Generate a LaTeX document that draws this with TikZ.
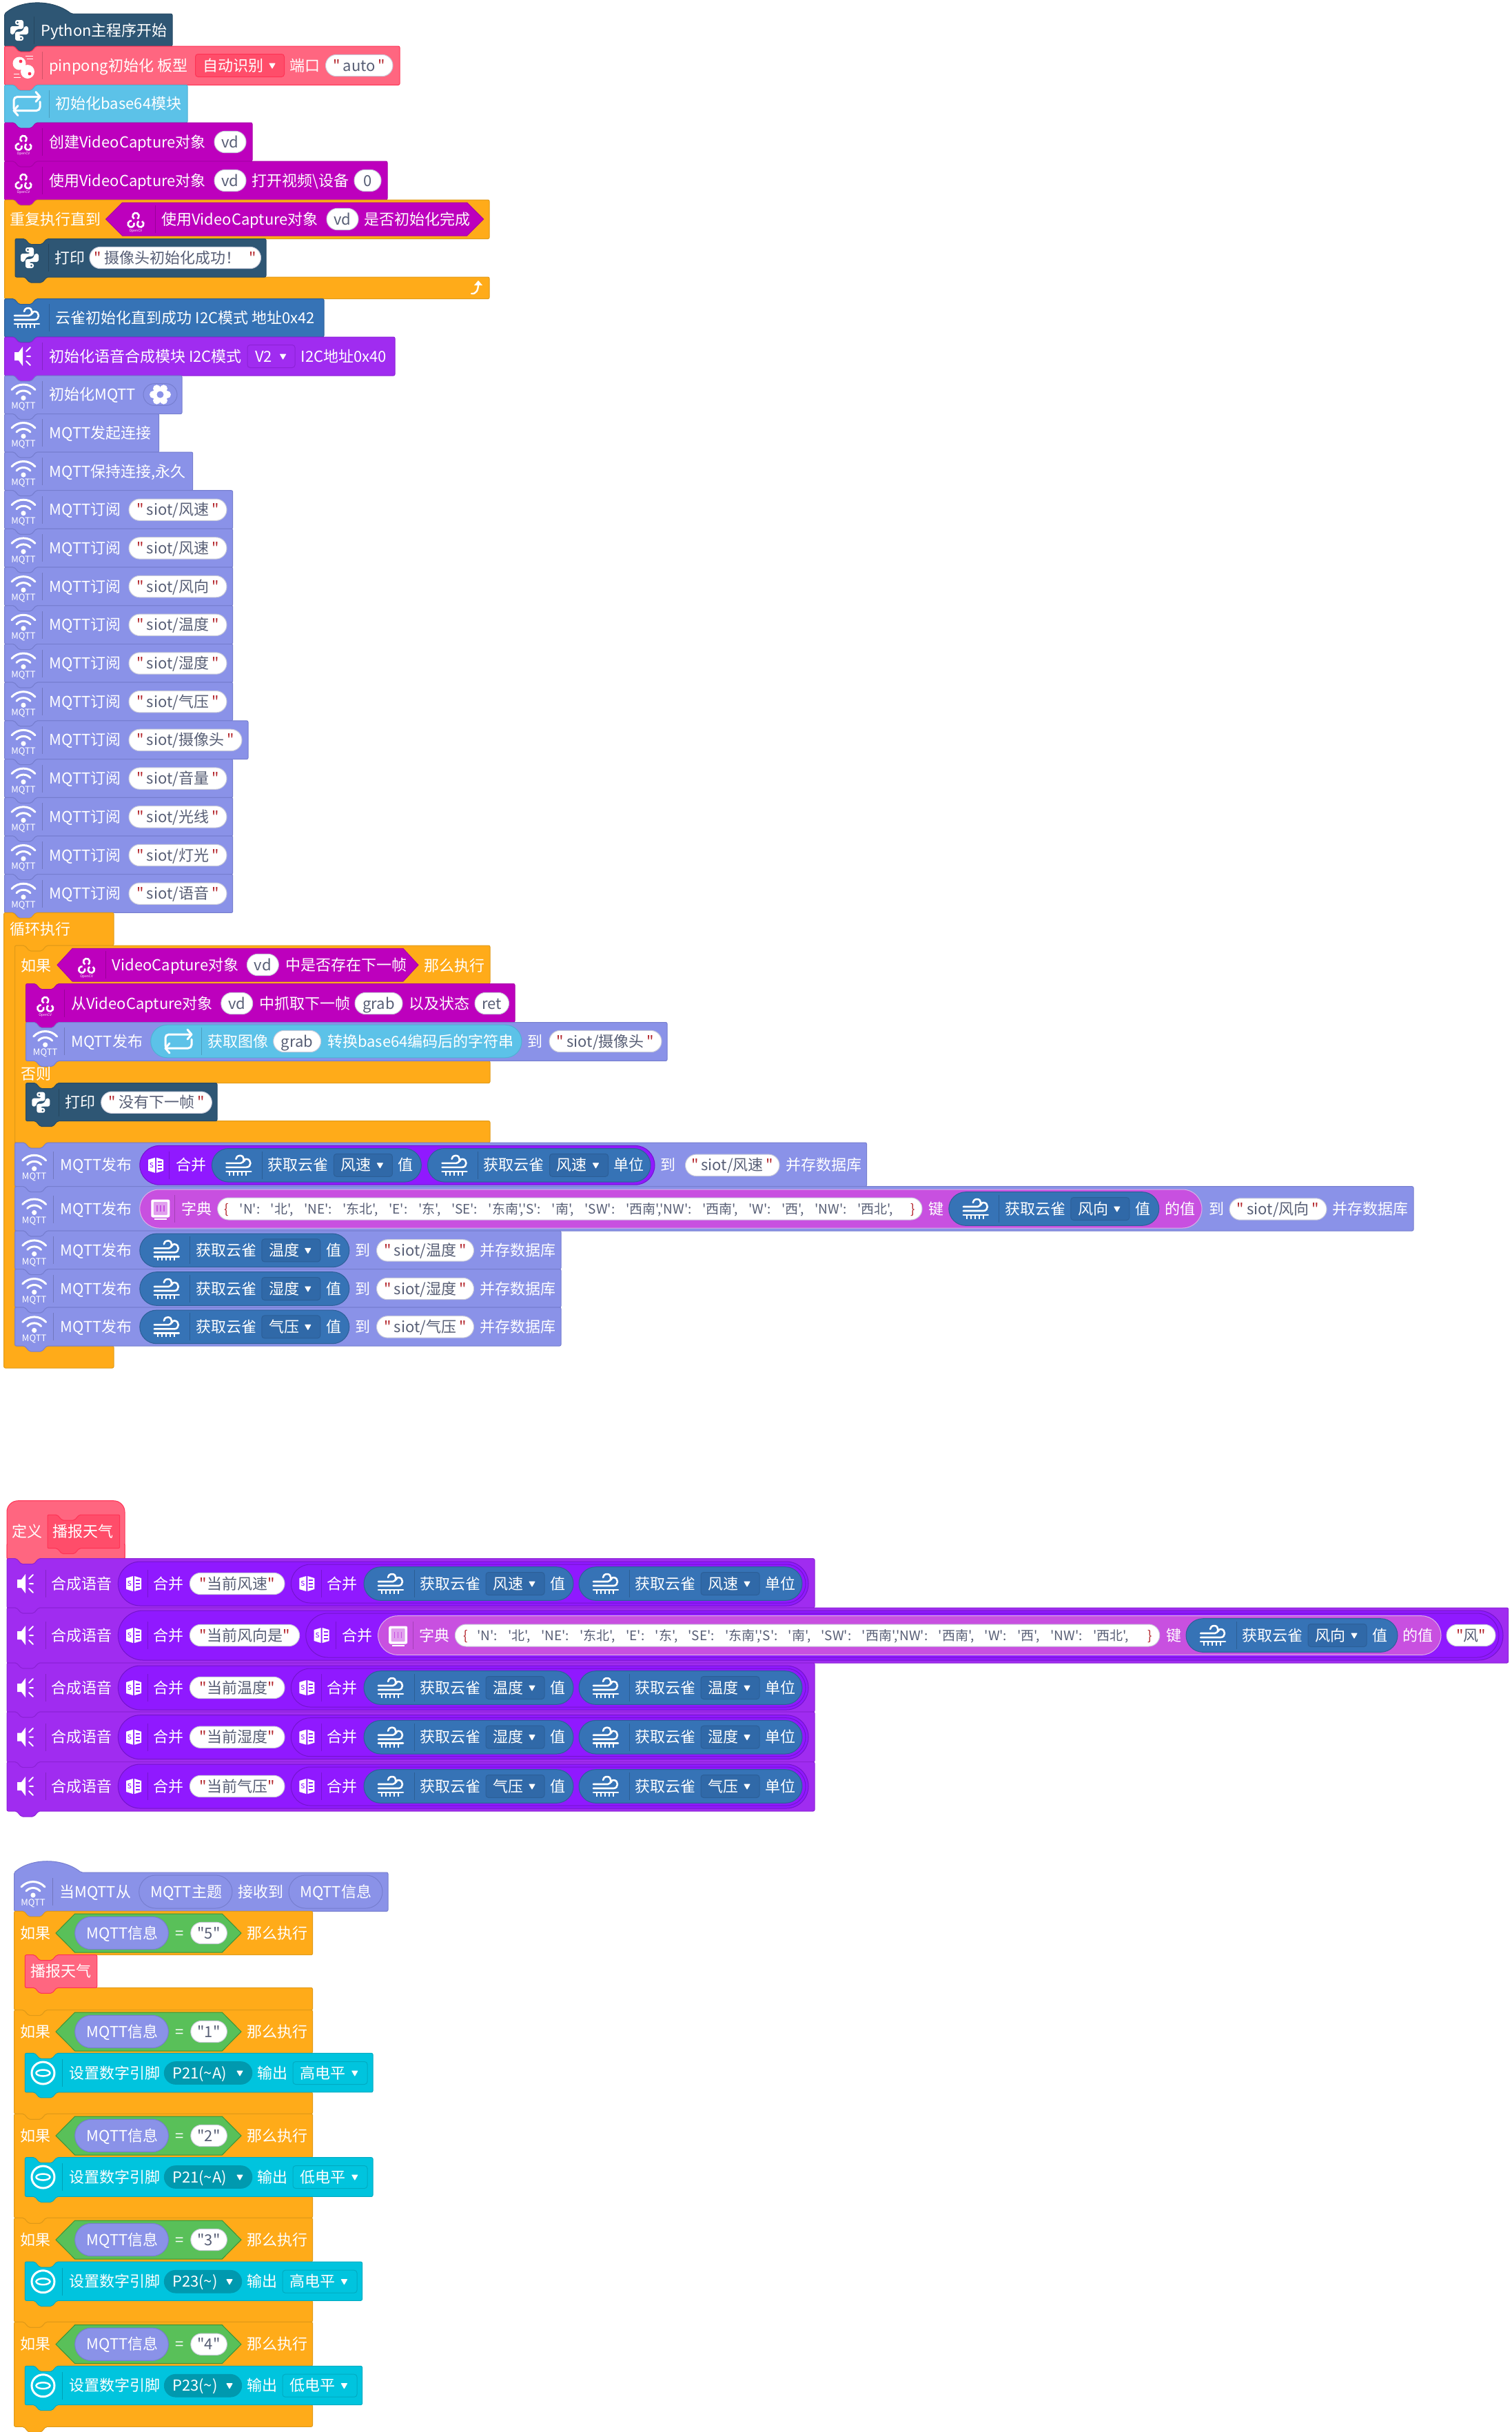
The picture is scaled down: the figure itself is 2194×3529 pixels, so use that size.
\documentclass[tikz,border=0pt]{standalone}
\usepackage{fontspec}
\newfontfamily\cjkface{Noto Sans CJK SC}
\definecolor{pyc}{HTML}{2E5674}\definecolor{pyedge}{HTML}{274A64}
\definecolor{pink}{HTML}{FF6680}\definecolor{pinkd}{HTML}{FF4D6A}\definecolor{pinkedge}{HTML}{FF3355}
\definecolor{bsf}{HTML}{5CC2E8}\definecolor{bsfedge}{HTML}{4FB0D4}
\definecolor{cvc}{HTML}{BD00BD}\definecolor{cvedge}{HTML}{A800A8}
\definecolor{orng}{HTML}{FFAB19}\definecolor{orngedge}{HTML}{E09A18}
\definecolor{wnd}{HTML}{3673B6}\definecolor{wndd}{HTML}{3069A8}\definecolor{wndedge}{HTML}{2C5F98}
\definecolor{spch}{HTML}{A02CF0}\definecolor{spchedge}{HTML}{8C22D6}
\definecolor{mrg}{HTML}{9019FF}\definecolor{mrgedge}{HTML}{7414CC}
\definecolor{mqt}{HTML}{8A92E8}\definecolor{mqtedge}{HTML}{767ECF}
\definecolor{dct}{HTML}{C850E0}\definecolor{dctedge}{HTML}{DDB0E6}
\definecolor{grn}{HTML}{59C059}\definecolor{grnedge}{HTML}{389438}
\definecolor{tl}{HTML}{00C4DE}\definecolor{tld}{HTML}{0099AF}\definecolor{tledge}{HTML}{00ABC2}
\definecolor{slate}{HTML}{575E75}\definecolor{qred}{HTML}{B5282E}\definecolor{stredge}{HTML}{C9CBDA}
\tikzset{
  lab/.style={anchor=base west,inner sep=0pt,text=white,font=\cjkface\fontsize{22}{26}\selectfont},
  strlab/.style={anchor=base,inner sep=0pt,text=slate,font=\cjkface\fontsize{22}{26}\selectfont},
  dictlab/.style={anchor=base west,inner sep=0pt,text=slate,font=\cjkface\fontsize{19}{22}\selectfont},
  icotxt/.style={inner sep=0pt,text=white,font=\cjkface\fontsize{13}{14}\selectfont},
  tinytxt/.style={inner sep=0pt,text=white,font=\cjkface\fontsize{5}{6}\selectfont},
  ico/.style={draw=white,line width=3pt,line cap=round,line join=round},
  sepline/.style={draw=black,draw opacity=.18,line width=1pt},
}
\newcounter{lbl}
\newcommand\T[3]{\stepcounter{lbl}\node[lab] (lbl\arabic{lbl}) at (#1,#2+8) {#3};}
\newcommand\Sep[2]{\draw[sepline] (#1,#2-20) -- (#1,#2+20);}
% stack block with top notch and bottom tab
\newcommand\Blk[6]{\path[fill=#5,draw=#6,line width=1pt,rounded corners=2pt] (#1,#2) -- ++(14,0) -- ++(7,8) -- ++(18,0) -- ++(7,-8) -- (#3,#2) -- (#3,#4) -- (#1+46,#4) -- ++(-7,8) -- ++(-18,0) -- ++(-7,-8) -- (#1,#4) -- cycle;}
% hat block: domed top, flat right part, bottom tab
\newcommand\HatBlk[7]{\path[fill=#6,draw=#7,line width=1pt,rounded corners=2pt] (#1,#3) .. controls (#1+25,#2-5) and (#1+70,#2-5) .. (#1+97,#3) -- (#4,#3) -- (#4,#5) -- (#1+46,#5) -- ++(-7,8) -- ++(-18,0) -- ++(-7,-8) -- (#1,#5) -- cycle;}
% C-shaped block: x1,y1,xin,y2,x2,y3,y4
\newcommand\CBlk[7]{\path[fill=orng,draw=orngedge,line width=1pt,rounded corners=2pt] (#1,#2) -- ++(14,0) -- ++(7,8) -- ++(18,0) -- ++(7,-8) -- (#5,#2) -- (#5,#4) -- (#3+46,#4) -- ++(-7,8) -- ++(-18,0) -- ++(-7,-8) -- (#3,#4) -- (#3,#6) -- (#5,#6) -- (#5,#7) -- (#1+46,#7) -- ++(-7,8) -- ++(-18,0) -- ++(-7,-8) -- (#1,#7) -- cycle;}
\newcommand\Pill[6]{\path[fill=#5,draw=#6,line width=1pt,rounded corners=#4pt] (#1,#3-#4) rectangle (#2,#3+#4);}
\newcommand\Hex[7]{\path[fill=#6,draw=#7,line width=1pt] (#1,{(#3)/2+(#4)/2}) -- (#1+#5,#3) -- (#2-#5,#3) -- (#2,{(#3)/2+(#4)/2}) -- (#2-#5,#4) -- (#1+#5,#4) -- cycle;}
\newcommand\DD[3]{\path[fill=white,draw=white,line width=1pt,line join=round] (#1-4,#2-3) -- (#1+4,#2-3) -- (#1,#2+#3) -- cycle;}
\newcommand\Drop[5]{\path[fill=#4,draw=#5,line width=1pt,rounded corners=4pt] (#1,#3-16.5) rectangle (#2,#3+16.5);}
\newcommand\Qm{{\color{qred}"}}
\newcommand\Str[4]{\Pill{#1}{#2}{#3}{15.7}{white}{stredge}\stepcounter{lbl}\node[strlab] (lbl\arabic{lbl}) at (#1/2+#2/2,#3+8) {\Qm\hspace{4pt}#4\hspace{4pt}\Qm};}
\newcommand\StrT[4]{\Pill{#1}{#2}{#3}{15.7}{white}{stredge}\stepcounter{lbl}\node[strlab] (lbl\arabic{lbl}) at (#1/2+#2/2,#3+8) {\Qm#4\Qm};}
\newcommand\Var[4]{\Pill{#1}{#2}{#3}{15.7}{white}{stredge}\stepcounter{lbl}\node[strlab] (lbl\arabic{lbl}) at (#1/2+#2/2,#3+8) {#4};}
% icons
\newcommand\PyIcon[3]{\begin{scope}[shift={(#1,#2)}]
 \path[fill=white,rounded corners=3pt] (-6,-15) -- (6,-15) -- (6,-2) -- (-3,-2) -- (-7,2) -- (-7,6) -- (-13,6) -- (-13,-6) -- (1,-6) -- (1,-8) -- (-6,-8) -- cycle;
 \path[fill=white,rounded corners=3pt] (6,15) -- (-6,15) -- (-6,2) -- (3,2) -- (7,-2) -- (7,-6) -- (13,-6) -- (13,6) -- (-1,6) -- (-1,8) -- (6,8) -- cycle;
 \fill[#3] (-2.5,-11.5) circle (1.5) (2.5,11.5) circle (1.5);
 \end{scope}}
\newcommand\CvIcon[2]{\begin{scope}[shift={(#1,#2)}]
 \draw[draw=white,line width=2.6pt] (0,-4.5) ++(120:4.6) arc[start angle=120,end angle=420,radius=4.6];
 \draw[draw=white,line width=2.6pt] (-6.8,7) ++(-20:4.6) arc[start angle=-20,end angle=280,radius=4.6];
 \draw[draw=white,line width=2.6pt] (6.8,7) ++(-60:4.6) arc[start angle=-60,end angle=240,radius=4.6];
 \stepcounter{lbl}\node[tinytxt] (lbl\arabic{lbl}) at (0,17) {OpenCV};
 \end{scope}}
\newcommand\WifiIcon[2]{\begin{scope}[shift={(#1,#2)}]
 \draw[ico] (-17,-7) .. controls (-8,-17) and (8,-17) .. (17,-7);
 \draw[ico] (-10,-1) .. controls (-5,-7) and (5,-7) .. (10,-1);
 \fill[white] (0,5) circle (3.6);
 \stepcounter{lbl}\node[icotxt] (lbl\arabic{lbl}) at (0,17) {MQTT};
 \end{scope}}
\newcommand\WindIcon[2]{\begin{scope}[shift={(#1,#2)}]
 \draw[ico,line width=2.6pt] (-18,-3) -- (3,-3) .. controls (9,-3) and (9,-14) .. (2,-14) .. controls (-2,-14) and (-4,-11) .. (-4,-9);
 \draw[ico,line width=2.6pt] (-18,3) -- (11,3) .. controls (19,3) and (19,-9) .. (11,-9) .. controls (9,-9) and (8,-8) .. (8,-6);
 \draw[ico,line width=2.6pt] (-18,9) -- (18,9);
 \draw[draw=white,line width=2pt] (-13,9) -- (-13,15) (-7,9) -- (-7,15) (-1,9) -- (-1,15) (5,9) -- (5,15) (11,9) -- (11,15);
 \end{scope}}
\newcommand\SpkIcon[2]{\begin{scope}[shift={(#1,#2)}]
 \path[fill=white,line join=round] (-13,-6) -- (-7,-6) -- (-1,-14) -- (-1,14) -- (-7,6) -- (-13,6) -- cycle;
 \draw[ico,line width=2pt] (4,-7) -- (10,-13) (5,0) -- (10,0) (4,7) -- (10,13);
 \end{scope}}
\newcommand\LoopIcon[2]{\begin{scope}[shift={(#1,#2)}]
 \draw[ico,rounded corners=5pt] (-19,7) -- (-19,-10) -- (19,-10);
 \draw[ico] (13,-17) -- (19,-10) -- (13,-3);
 \draw[ico,rounded corners=5pt] (19,-3) -- (19,10) -- (-19,10);
 \draw[ico] (-13,17) -- (-19,10) -- (-13,3);
 \end{scope}}
\newcommand\BookIcon[3]{\begin{scope}[shift={(#1,#2)}]
 \path[fill=white] (-11,-8) -- (-1,-11) -- (-1,11) -- (-11,8) -- cycle;
 \path[fill=white] (1,-11) -- (11,-8) -- (11,8) -- (1,11) -- cycle;
 \draw[draw=#3,line width=1.6pt] (3,-5) -- (9,-5) (3,0) -- (9,0) (3,5) -- (9,5);
 \stepcounter{lbl}\node[icotxt,text=#3] (lbl\arabic{lbl}) at (-6,0) {s};
 \end{scope}}
\newcommand\DictIcon[2]{\begin{scope}[shift={(#1,#2)}]
 \path[fill=white,draw=white,line width=1pt,rounded corners=2pt] (-13,-13) rectangle (13,12);
 \path[fill=dct!55!white,rounded corners=1pt] (-10,-10) rectangle (10,9);
 \draw[draw=dct,line width=1.4pt] (-5,-5) -- (-5,4) (0,-5) -- (0,4) (5,-5) -- (5,4);
 \draw[draw=white,line width=2pt] (-9,15) -- (9,15);
 \end{scope}}
\newcommand\BallIcon[2]{\begin{scope}[shift={(#1,#2)}]
 \fill[white] (-6,-3) circle (9.5) (6,9) circle (10);
 \fill[pinkedge] (-4,-6) circle (2.4) (9,12) circle (2.4);
 \draw[draw=white,line width=1pt] (3,-14) -- (14,-14) (5,-10) -- (14,-10) (-14,12) -- (-6,12) (-14,17) -- (-4,17);
 \end{scope}}
\newcommand\DiscIcon[2]{\begin{scope}[shift={(#1,#2)}]
 \draw[draw=white,line width=3pt] (0,0) ellipse (16.5 and 16);
 \draw[draw=white,line width=2.5pt] (0,0) ellipse (10 and 4.5);
 \end{scope}}
\newcommand\GearIcon[2]{\begin{scope}[shift={(#1,#2)}]
 \fill[white] (0,0) circle (11);
 \foreach \a in {0,60,...,300} {\fill[white] (\a:10) circle (5.5);}
 \fill[mqt] (0,0) circle (5);
 \end{scope}}
% composite rows
\newcommand\Wind[5]{\Pill{#1}{#1+#5}{#2}{24.3}{wnd}{wndedge}\WindIcon{#1+39}{#2}\Sep{#1+73}{#2}\T{#1+81}{#2}{获取云雀}\Drop{#1+177}{#1+262}{#2}{wndd}{wndedge}\T{#1+187}{#2}{#3}\DD{#1+244}{#2}{4}\T{#1+270}{#2}{#4}}
\newcommand\Sub[4]{\Blk{6.5}{#1}{#2}{#1+55.7}{mqt}{mqtedge}\WifiIcon{34}{#1+28}\Sep{61.5}{#1+28}\T{71.7}{#1+28}{MQTT订阅}\Str{187}{#3}{#1+28}{#4}}
\newcommand\Pub[5]{\Blk{21.7}{#1}{814}{#2}{mqt}{mqtedge}\WifiIcon{49.7}{#3}\Sep{77.8}{#3}\T{87.4}{#3}{MQTT发布}\Wind{202.8}{#3}{#4}{值}{304}\T{515.3}{#3}{到}\Str{546.5}{687.5}{#3}{#5}\T{696.4}{#3}{并存数据库}}
\newcommand\SpkHead[4]{\Blk{10}{#1}{#4}{#2}{spch}{spchedge}\SpkIcon{38}{#3}\Sep{66.5}{#3}\T{74}{#3}{合成语音}}
\newcommand\SpkRow[5]{\SpkHead{#1}{#2}{#3}{1182}\Pill{171.4}{1173}{#3}{32}{mrg}{mrgedge}\BookIcon{194}{#3}{mrg}\Sep{214}{#3}\T{222.6}{#3}{合并}\StrT{275.4}{413}{#3}{#4}\Pill{422.3}{1169}{#3}{28}{mrg}{mrgedge}\BookIcon{445.3}{#3}{mrg}\Sep{466}{#3}\T{474.4}{#3}{合并}\Wind{528}{#3}{#5}{值}{304}\Wind{840}{#3}{#5}{单位}{324}}
\newcommand\DictBody[1]{\makebox[#1pt][s]{'N':\ '北',\ 'NE':\ '东北',\ 'E':\ '东',\ 'SE':\ '东南','S':\ '南',\ 'SW':\ '西南','NW':\ '西南',\ 'W':\ '西',\ 'NW':\ '西北',}}
\newcommand\IfHead[2]{\T{28.9}{#1}{如果}\Hex{81}{350}{#1-28}{#1+28}{27.7}{grn}{grnedge}\Pill{108.7}{244.4}{#1}{23.7}{mqt}{mqtedge}\T{125.3}{#1}{MQTT信息}\T{253.9}{#1}{=}\Var{276.8}{329.4}{#1}{"#2"}\T{357.8}{#1}{那么执行}}
\newcommand\SetOne[4]{\Blk{36.4}{#1}{541}{#1+56.6}{tl}{tledge}\DiscIcon{62.5}{#2}\Sep{90.5}{#2}\T{100}{#2}{设置数字引脚}\Pill{238.4}{365.8}{#2}{16.3}{tld}{tld}\T{250}{#2}{P21(\textasciitilde A)}\DD{348}{#2}{4}\T{373.7}{#2}{输出}\Drop{425}{533}{#2}{tl}{tledge}\T{435.7}{#2}{#3}\DD{514.8}{#2}{4}}
\newcommand\SetTwo[4]{\Blk{36.4}{#1}{525.5}{#1+56.3}{tl}{tledge}\DiscIcon{62.5}{#2}\Sep{90.5}{#2}\T{100}{#2}{设置数字引脚}\Pill{238.4}{350.7}{#2}{16.3}{tld}{tld}\T{250}{#2}{P23(\textasciitilde)}\DD{333}{#2}{4}\T{357.8}{#2}{输出}\Drop{410}{518}{#2}{tl}{tledge}\T{420.7}{#2}{#3}\DD{499.4}{#2}{4}}
\begin{document}
\begin{tikzpicture}[x=1pt,y=-1pt]
\path[fill=white] (0,0) rectangle (2194,3529);
\useasboundingbox (0,0) rectangle (2194,3529);

% ---- main program stack ----
\HatBlk{6.5}{4}{20}{250}{67}{pyc}{pyedge}
\PyIcon{28}{44}{pyc}\Sep{49.3}{44}\T{59}{44}{Python主程序开始}

\Blk{6.5}{67}{580}{123.3}{pink}{pinkedge}
\BallIcon{34}{95}\Sep{61.5}{95}\T{71}{95}{pinpong初始化 板型}
\Drop{283.5}{412.5}{95}{pinkd}{pinkedge}\T{294.7}{95}{自动识别}\DD{395}{95}{4}
\T{420}{95}{端口}\Str{472.5}{570}{95}{auto}

\Blk{6.5}{123.3}{272}{178}{bsf}{bsfedge}
\LoopIcon{39}{150.5}\Sep{71.7}{150.5}\T{80.5}{150.5}{初始化base64模块}

\Blk{6.5}{178}{366}{234}{cvc}{cvedge}
\CvIcon{34}{206}\Sep{61.5}{206}\T{71}{206}{创建VideoCapture对象}\Var{311}{357}{206}{vd}

\Blk{6.5}{234}{562}{290}{cvc}{cvedge}
\CvIcon{34}{262}\Sep{61.5}{262}\T{71}{262}{使用VideoCapture对象}\Var{311}{357}{262}{vd}
\T{365.5}{262}{打开视频\textbackslash 设备}\Var{514}{553}{262}{0}

\CBlk{6.5}{290}{22}{346.5}{710}{402}{433.6}
\T{14}{318}{重复执行直到}
\Hex{153.6}{701.6}{294}{342}{24}{cvc}{cvedge}
\CvIcon{197}{318}\Sep{225}{318}\T{234}{318}{使用VideoCapture对象}\Var{474}{520}{318}{vd}\T{528}{318}{是否初始化完成}
\Blk{22}{346.5}{386}{402}{pyc}{pyedge}
\PyIcon{43}{374}{pyc}\Sep{70}{374}\T{79}{374}{打印}\Str{130}{378.5}{374}{摄像头初始化成功！\hspace{8pt}}
\draw[ico,line width=2.4pt] (684,426) .. controls (691,427) and (694,421) .. (694,412);
\path[fill=white,line join=round] (688,414) -- (694,407) -- (700,414) -- cycle;

\Blk{6.5}{433.6}{470}{489}{wnd}{wndedge}
\WindIcon{39}{461}\Sep{71.7}{461}\T{80.5}{461}{云雀初始化直到成功 I2C模式 地址0x42}

\Blk{6.5}{489}{573}{545}{spch}{spchedge}
\SpkIcon{34}{517}\Sep{61.5}{517}\T{71}{517}{初始化语音合成模块 I2C模式}
\Drop{359}{428}{517}{spch}{spchedge}\T{370}{517}{V2}\DD{410.6}{517}{4}\T{436.7}{517}{I2C地址0x40}

\Blk{6.5}{545}{264}{600.6}{mqt}{mqtedge}
\WifiIcon{34}{572.5}\Sep{61.5}{572.5}\T{71}{572.5}{初始化MQTT}
\Pill{208}{257}{572.5}{15.8}{mqt}{mqtedge}\GearIcon{232.5}{572.5}

\Blk{6.5}{600.6}{230.7}{656}{mqt}{mqtedge}
\WifiIcon{34}{628}\Sep{61.5}{628}\T{71.7}{628}{MQTT发起连接}
\Blk{6.5}{656}{279.7}{711.7}{mqt}{mqtedge}
\WifiIcon{34}{684}\Sep{61.5}{684}\T{71.7}{684}{MQTT保持连接,永久}

\Sub{711.7}{337.7}{329}{siot/风速}
\Sub{767.4}{337.7}{329}{siot/风速}
\Sub{823.1}{337.7}{329}{siot/风向}
\Sub{878.8}{337.7}{329}{siot/温度}
\Sub{934.5}{337.7}{329}{siot/湿度}
\Sub{990.2}{337.7}{329}{siot/气压}
\Sub{1045.9}{360}{351}{siot/摄像头}
\Sub{1101.6}{337.7}{329}{siot/音量}
\Sub{1157.3}{337.7}{329}{siot/光线}
\Sub{1213}{337.7}{329}{siot/灯光}
\Sub{1268.7}{337.7}{329}{siot/语音}

% ---- forever loop ----
\path[fill=orng,draw=orngedge,line width=1pt,rounded corners=2pt] (5.7,1324.4) -- ++(14,0) -- ++(7,8) -- ++(18,0) -- ++(7,-8) -- (165,1324.4) -- (165,1372) -- (67.7,1372) -- ++(-7,8) -- ++(-18,0) -- ++(-7,-8) -- (21.7,1372) -- (21.7,1953) -- (165,1953) -- (165,1985) -- (5.7,1985) -- cycle;
\T{14}{1348.6}{循环执行}

% if / else with two arms
\path[fill=orng,draw=orngedge,line width=1pt,rounded corners=2pt] (21.7,1372) -- ++(14,0) -- ++(7,8) -- ++(18,0) -- ++(7,-8) -- (711,1372) -- (711,1427.5) -- (83.6,1427.5) -- ++(-7,8) -- ++(-18,0) -- ++(-7,-8) -- (37.6,1427.5) -- (37.6,1539.4) -- (711,1539.4) -- (711,1571.5) -- (83.6,1571.5) -- ++(-7,8) -- ++(-18,0) -- ++(-7,-8) -- (37.6,1571.5) -- (37.6,1626.6) -- (711,1626.6) -- (711,1658) -- (67.7,1658) -- ++(-7,8) -- ++(-18,0) -- ++(-7,-8) -- (21.7,1658) -- cycle;
\T{30}{1401.5}{如果}
\Hex{83}{607}{1376.4}{1424}{22}{cvc}{cvedge}
\CvIcon{125.6}{1400}\Sep{153}{1400}\T{162.6}{1400}{VideoCapture对象}\Var{358.4}{404.3}{1400}{vd}\T{414.5}{1400}{中是否存在下一帧}
\T{615.4}{1401.5}{那么执行}

\Blk{37.6}{1427.5}{747}{1483.5}{cvc}{cvedge}
\CvIcon{65.7}{1456}\Sep{93.7}{1456}\T{103}{1456}{从VideoCapture对象}\Var{320.8}{366.7}{1456}{vd}
\T{376}{1456}{中抓取下一帧}\Var{515}{584}{1456}{grab}\T{593}{1456}{以及状态}\Var{689}{738.5}{1456}{ret}

\Blk{37.6}{1483.5}{968}{1539.4}{mqt}{mqtedge}
\WifiIcon{65.7}{1511}\Sep{93.7}{1511}\T{103}{1511}{MQTT发布}
\Pill{218.7}{757}{1511}{23.8}{bsf}{bsfedge}\LoopIcon{259}{1511}\Sep{292}{1511}\T{301}{1511}{获取图像}\Var{396.7}{465.6}{1511}{grab}
\T{475}{1511}{转换base64编码后的字符串}\T{765}{1511}{到}\Str{797}{960}{1511}{siot/摄像头}

\T{30}{1558}{否则}
\Blk{37.6}{1571.5}{315}{1626.6}{pyc}{pyedge}
\PyIcon{59.3}{1599.7}{pyc}\Sep{85.5}{1599.7}\T{94.4}{1599.7}{打印}\Str{146.7}{307.4}{1599.7}{没有下一帧}

% publish rows inside the loop
\Blk{21.7}{1658}{1257.5}{1721.7}{mqt}{mqtedge}
\WifiIcon{49.7}{1690.8}\Sep{77.8}{1690.8}\T{87.4}{1690.8}{MQTT发布}
\Pill{202.8}{950}{1690.8}{28.4}{mrg}{mrgedge}\BookIcon{226}{1690.8}{mrg}\Sep{245.5}{1690.8}\T{255}{1690.8}{合并}
\Wind{307.4}{1690.8}{风速}{值}{304}\Wind{620.5}{1690.8}{风速}{单位}{323.5}
\T{958.5}{1690.8}{到}\Str{994.5}{1131}{1690.8}{siot/风速}\T{1140}{1690.8}{并存数据库}

\Blk{21.7}{1721.7}{2051}{1786}{mqt}{mqtedge}
\WifiIcon{49.7}{1754.5}\Sep{77.8}{1754.5}\T{87.4}{1754.5}{MQTT发布}
\Pill{202.8}{1744}{1754}{28}{dct}{dctedge}\DictIcon{232.8}{1754}\Sep{253.8}{1754}\T{262.8}{1754}{字典}
\Pill{315.7}{1338}{1754}{16}{white}{stredge}
\stepcounter{lbl}\node[dictlab,text=qred] (lbl\arabic{lbl}) at (325,1761) {\{};
\stepcounter{lbl}\node[dictlab] (lbl\arabic{lbl}) at (347.6,1761) {\DictBody{948}};
\stepcounter{lbl}\node[dictlab,text=qred] (lbl\arabic{lbl}) at (1321,1761) {\}};
\T{1347}{1754}{键}\Wind{1376.8}{1754}{风向}{值}{305}\T{1690}{1754}{的值}
\T{1754.4}{1754.5}{到}\Str{1784}{1925}{1754.5}{siot/风向}\T{1933}{1754.5}{并存数据库}

\Pub{1786}{1841.7}{1814.4}{温度}{siot/温度}
\Pub{1841.7}{1897}{1870}{湿度}{siot/湿度}
\Pub{1897}{1953}{1925.4}{气压}{siot/气压}

% ---- procedure definition ----
\path[fill=pink,draw=pinkedge,line width=1pt,rounded corners=16pt] (10,2261.7) -- (10,2177.7) -- (181,2177.7) -- (181,2261.7);
\path[fill=pink,draw=pinkedge,line width=1pt,rounded corners=2pt] (10,2240) -- (10,2261.7) -- (24,2261.7) -- ++(7,8) -- ++(18,0) -- ++(7,-8) -- (181,2261.7) -- (181,2240) -- cycle;
\path[fill=pink] (11,2195) rectangle (180,2250);
\T{17}{2222.7}{定义}
\Blk{69}{2198}{173.7}{2246.7}{pinkd}{pinkedge}
\T{76.5}{2222.7}{播报天气}

\SpkRow{2261.7}{2333}{2298}{当前风速}{风速}
\SpkHead{2333}{2413}{2373}{2188.6}
\Pill{171.4}{2181}{2373}{36}{mrg}{mrgedge}\BookIcon{194}{2373}{mrg}\Sep{214}{2373}\T{222.6}{2373}{合并}\StrT{275.4}{434.6}{2373}{当前风向是}
\Pill{443.8}{2175}{2373}{32}{mrg}{mrgedge}\BookIcon{466.7}{2373}{mrg}\Sep{487}{2373}\T{495.8}{2373}{合并}
\Pill{548.6}{2091}{2373}{28.3}{dct}{dctedge}\DictIcon{577.7}{2373}\Sep{599}{2373}\T{608}{2373}{字典}
\Pill{660.3}{1682.7}{2373}{16}{white}{stredge}
\stepcounter{lbl}\node[dictlab,text=qred] (lbl\arabic{lbl}) at (672,2380) {\{};
\stepcounter{lbl}\node[dictlab] (lbl\arabic{lbl}) at (692.4,2380) {\DictBody{945}};
\stepcounter{lbl}\node[dictlab,text=qred] (lbl\arabic{lbl}) at (1665,2380) {\}};
\T{1691.8}{2373}{键}\Wind{1721}{2373}{风向}{值}{307}\T{2035}{2373}{的值}\StrT{2099}{2170}{2373}{风}
\SpkRow{2413}{2484}{2449}{当前温度}{温度}
\SpkRow{2484}{2556.7}{2520.7}{当前湿度}{湿度}
\SpkRow{2556.7}{2628}{2592}{当前气压}{气压}

% ---- MQTT message handler ----
\HatBlk{20.6}{2700.7}{2717}{563}{2773.3}{mqt}{mqtedge}
\WifiIcon{48}{2745}\Sep{76.3}{2745}\T{86}{2745}{当MQTT从}
\Pill{201.7}{337}{2745}{24}{mqt}{mqtedge}\T{218}{2745}{MQTT主题}\T{345}{2745}{接收到}
\Pill{419}{555}{2745}{24}{mqt}{mqtedge}\T{435}{2745}{MQTT信息}

\CBlk{20.6}{2773.3}{36.4}{2836.7}{453.5}{2884.3}{2916.7}
\IfHead{2805}{5}
\Blk{36.4}{2836.7}{140.8}{2884.3}{pink}{pinkedge}\T{44.7}{2860.5}{播报天气}

\CBlk{20.6}{2916.7}{36.4}{2979.3}{453.5}{3036}{3067.3}
\IfHead{2948}{1}
\SetOne{2979.3}{3008}{高电平}{}

\CBlk{20.6}{3067.3}{36.4}{3130.7}{453.5}{3187.3}{3218.3}
\IfHead{3099}{2}
\SetOne{3130.7}{3159}{低电平}{}

\CBlk{20.6}{3218.3}{36.4}{3282}{453.5}{3338.3}{3369.3}
\IfHead{3250}{3}
\SetTwo{3282}{3310.7}{高电平}{}

\CBlk{20.6}{3369.3}{36.4}{3433.3}{453.5}{3489.3}{3521.3}
\IfHead{3401.7}{4}
\SetTwo{3433.3}{3461.7}{低电平}{}
\end{tikzpicture}
\end{document}
